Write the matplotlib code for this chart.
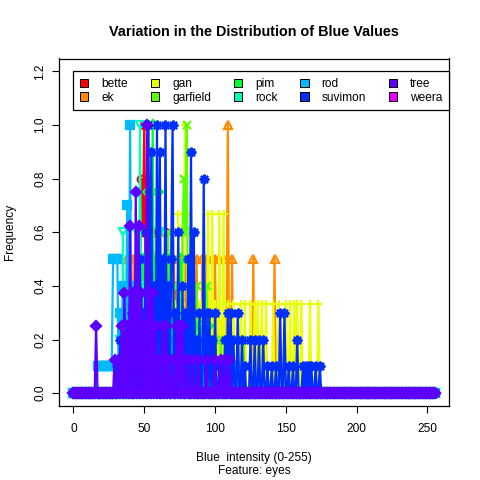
import numpy as np
import matplotlib
matplotlib.use("Agg")
from matplotlib import pyplot as plt
from matplotlib.patches import Patch

plt.rcParams['font.family'] = ['Liberation Sans', 'DejaVu Sans']

names = ['bette', 'ek', 'gan', 'garfield', 'pim', 'rock', 'rod', 'suvimon', 'tree', 'weera']
colors = ['#FF0000', '#FF8B00', '#E8FF00', '#5DFF00', '#00FF2E',
          '#00FFB9', '#00B9FF', '#002EFF', '#5D00FF', '#E800FF']
markers = ['o', '^', '+', 'x', 'D', 'v', 's', (8, 2, 0), 'D', 'o']

# non-zero bins of each normalised histogram (everything else is 0)
bette_bins = [42, 44, 45, 46, 47, 48, 49, 50, 51, 52, 53, 54, 55, 56, 57, 58, 60, 61, 63, 64,
              65, 67, 68, 70, 72, 73, 75, 77, 78, 80, 82, 85, 87, 88, 89, 91, 92, 95, 99, 102,
              107, 110]
bette_vals = [0.2, 0.4, 0.2, 0.6, 0.4, 0.8, 0.6, 1.0, 0.4, 0.8, 0.6, 0.2, 0.4, 0.6, 0.2, 0.4, 0.4, 0.2, 0.4, 0.2,
              0.6, 0.2, 0.4, 0.2, 0.4, 0.2, 0.2, 0.2, 0.4, 0.2, 0.2, 0.2, 0.2, 0.2, 0.2, 0.2, 0.2, 0.2, 0.2, 0.2,
              0.2, 0.2]

ek_bins = [38, 40, 41, 43, 45, 46, 48, 51, 52, 54, 56, 57, 59, 62, 64, 67, 69, 71, 74, 76,
           79, 81, 84, 87, 91, 94, 98, 100, 103, 106, 109, 112, 127, 142]
ek_vals = [0.5, 0.5, 0.5, 0.5, 0.5, 0.5, 0.5, 0.5, 0.5, 0.5, 0.5, 0.5, 0.5, 0.5, 0.5, 0.5, 0.5, 0.5, 0.5, 0.5,
           0.5, 0.5, 0.5, 0.5, 0.5, 0.5, 0.5, 0.5, 0.5, 0.5, 1.0, 0.5, 0.5, 0.5]

gan_bins = [60, 64, 68, 72, 74, 76, 78, 79, 80, 84, 86, 88, 90, 93, 95, 98, 100, 103, 106, 109,
            113, 118, 121, 125, 128, 130, 133, 136, 141, 145, 150, 153, 156, 158, 161, 167, 173]
gan_vals = [0.333, 0.333, 0.333, 0.333, 0.667, 0.333, 0.667, 1.0, 0.667, 0.333, 0.333, 0.333, 0.333, 0.333,
            0.667, 0.667, 0.333, 0.667, 0.667, 0.333, 0.333, 0.333, 0.333, 0.333, 0.333, 0.333, 0.333,
            0.333, 0.333, 0.333, 0.333, 0.333, 0.333, 0.333, 0.333, 0.333, 0.333]

garfield_bins = [45, 48, 50, 53, 55, 57, 59, 61, 63, 65, 67, 69, 71, 73, 75, 77, 78, 79, 80, 81,
                 83, 85, 87, 89, 91, 94, 97, 100, 104, 108, 112, 116, 120]
garfield_vals = [0.2, 0.2, 0.4, 0.2, 0.6, 0.2, 0.4, 0.6, 0.2, 0.4, 0.6, 0.2, 0.4, 0.2, 0.4, 0.6, 0.8, 0.6, 1.0, 0.2,
                 0.4, 0.2, 0.4, 0.2, 0.2, 0.4, 0.2, 0.2, 0.2, 0.2, 0.2, 0.2, 0.2]

pim_bins = [47, 49, 51, 53, 55, 56, 58, 60, 62, 64, 66, 68, 70, 73, 76, 79, 83, 86, 90, 95]
pim_vals = [0.25, 0.5, 0.25, 0.75, 0.5, 1.0, 0.5, 0.75, 0.25, 0.5,
            0.25, 0.5, 0.25, 0.25, 0.5, 0.25, 0.25, 0.25, 0.25, 0.25]

rock_bins = [33, 35, 37, 39, 41, 43, 45, 47, 49, 51, 53, 55, 57, 59, 61, 63, 66, 69, 72, 75, 80, 85, 92]
rock_vals = [0.2, 0.6, 0.2, 0.4, 0.2, 0.4, 0.6, 1.0, 0.4, 0.2, 0.4, 0.2, 0.4, 0.2, 0.6, 0.2, 0.4, 0.2,
             0.2, 0.2, 0.2, 0.2, 0.2]

rod_bins = [17, 18, 19, 20, 21, 22, 23, 24, 25, 26, 27, 28, 29, 30, 31,
            33, 35, 37, 38, 40, 42, 44, 46, 48, 50, 53, 56, 59, 61, 64, 67, 70, 74, 78, 82,
            88, 89, 90, 91, 92, 93, 94, 95, 96, 97, 98, 99, 100, 101, 102, 103, 104, 105, 106,
            110, 111, 112, 113, 114]
rod_vals = [0.1, 0.1, 0.1, 0.1, 0.1, 0.1, 0.1, 0.1, 0.1, 0.1, 0.1, 0.5, 0.5, 0.5, 0.5,
            0.3, 0.4, 0.2, 0.7, 1.0, 0.3, 0.4, 0.2, 0.1, 0.3, 0.2, 0.1, 0.4, 0.2, 0.1, 0.4, 0.2, 0.1, 0.2, 0.1,
            0.1, 0.1, 0.1, 0.1, 0.1, 0.1, 0.1, 0.1, 0.1, 0.1, 0.1, 0.1, 0.1, 0.1, 0.1, 0.1, 0.1, 0.1, 0.1,
            0.1, 0.1, 0.1, 0.1, 0.1]

suvimon_bins = [31, 33, 35, 38, 41, 44, 47, 49, 51, 53, 55, 57, 59, 61, 63, 65, 67, 69, 70, 72,
                74, 77, 79, 81, 83, 85, 87, 89, 92, 94, 96, 98, 100, 103, 105, 107, 109, 111, 113, 116,
                119, 121, 125, 128, 131, 134, 137, 140, 143, 146, 149, 152, 155, 158, 162, 164, 166, 168,
                171, 174]
suvimon_vals = [0.1, 0.2, 0.2, 0.1, 0.3, 0.2, 0.5, 0.3, 0.6, 1.0, 0.9, 0.4, 1.0, 0.9, 0.5, 1.0, 0.4, 0.5, 1.0, 0.3,
                0.6, 0.4, 0.3, 0.5, 0.9, 0.6, 0.2, 0.3, 0.8, 0.3, 0.3, 0.2, 0.3, 0.1, 0.1, 0.2, 0.3, 0.3, 0.2, 0.3,
                0.2, 0.1, 0.2, 0.2, 0.2, 0.2, 0.1, 0.1, 0.1, 0.3, 0.3, 0.1, 0.1, 0.2, 0.1, 0.1, 0.1, 0.1,
                0.1, 0.1]

tree_bins = [16, 29, 32, 34, 36, 38, 40, 42, 44, 46, 48, 50, 52, 54, 56, 58, 60, 63, 65, 67,
             70, 73, 75, 77, 80, 84, 88, 94, 100, 104, 107, 110]
tree_vals = [0.25, 0.125, 0.125, 0.25, 0.375, 0.25, 0.625, 0.375, 0.75, 0.625, 0.375, 0.25, 1.0, 0.375,
             0.375, 0.25, 0.125, 0.25, 0.25, 0.125, 0.125, 0.25, 0.25, 0.25, 0.125, 0.125, 0.125, 0.125,
             0.125, 0.125, 0.125, 0.125]

weera_bins = [50, 52, 55, 58, 60]
weera_vals = [0.2, 0.4, 0.6, 0.4, 0.2]

series = {
    'bette': (bette_bins, bette_vals), 'ek': (ek_bins, ek_vals), 'gan': (gan_bins, gan_vals),
    'garfield': (garfield_bins, garfield_vals), 'pim': (pim_bins, pim_vals), 'rock': (rock_bins, rock_vals),
    'rod': (rod_bins, rod_vals), 'suvimon': (suvimon_bins, suvimon_vals), 'tree': (tree_bins, tree_vals),
    'weera': (weera_bins, weera_vals),
}

x = np.arange(256)

fig = plt.figure(figsize=(4.8, 4.8), dpi=100)
ax = fig.add_axes([59 / 480, 74 / 480, 390 / 480, 347.5 / 480])

# weera sits underneath everything in the original
order = [9, 0, 1, 2, 3, 4, 5, 6, 7, 8]
for i in order:
    bins, vals = series[names[i]]
    y = np.zeros(256)
    y[bins] = vals
    m = markers[i]
    filled = names[i] in ('rod', 'tree')
    ms = 7 if names[i] == 'suvimon' else 5.5
    ax.plot(x, y, color=colors[i], lw=1.6, marker=m, ms=ms, mew=1.6,
            mfc=colors[i] if filled else 'none', mec=colors[i])

ax.set_xlim(-10.2, 265.2)
ax.set_ylim(-0.048, 1.248)
ax.set_xticks([0, 50, 100, 150, 200, 250])
ax.set_yticks([0, 0.2, 0.4, 0.6, 0.8, 1.0, 1.2])
ax.set_yticklabels(['0.0', '0.2', '0.4', '0.6', '0.8', '1.0', '1.2'], rotation=90, va='center')
ax.tick_params(labelsize=8.6, length=5, width=0.8, pad=4)
ax.tick_params(axis='x', pad=7)
for s in ax.spines.values():
    s.set_linewidth(0.9)

handles = [Patch(facecolor=c, edgecolor='black', lw=0.7) for c in colors]
leg = ax.legend(handles, names, ncol=5, loc='upper left', mode='expand',
                bbox_to_anchor=(0, 1.037, 265.2, 0.163), bbox_transform=ax.transData,
                borderaxespad=0, fancybox=False, edgecolor='black', framealpha=1,
                fontsize=8.6, handlelength=0.7, handleheight=0.7, handletextpad=1.1,
                labelspacing=0.15, borderpad=0.55)
leg.get_frame().set_linewidth(0.9)

fig.text(254 / 480, 1 - 32 / 480, 'Variation in the Distribution of Blue Values',
         ha='center', va='center', fontsize=10.4, fontweight='bold')
fig.text(254 / 480, 1 - 458 / 480, 'Blue  intensity (0-255)', ha='center', va='center', fontsize=8.6)
fig.text(254 / 480, 1 - 471 / 480, 'Feature: eyes', ha='center', va='center', fontsize=8.6)
fig.text(10 / 480, 1 - 232 / 480, 'Frequency', ha='center', va='center', rotation=90, fontsize=8.6)

fig.savefig('out.png', dpi=100)
